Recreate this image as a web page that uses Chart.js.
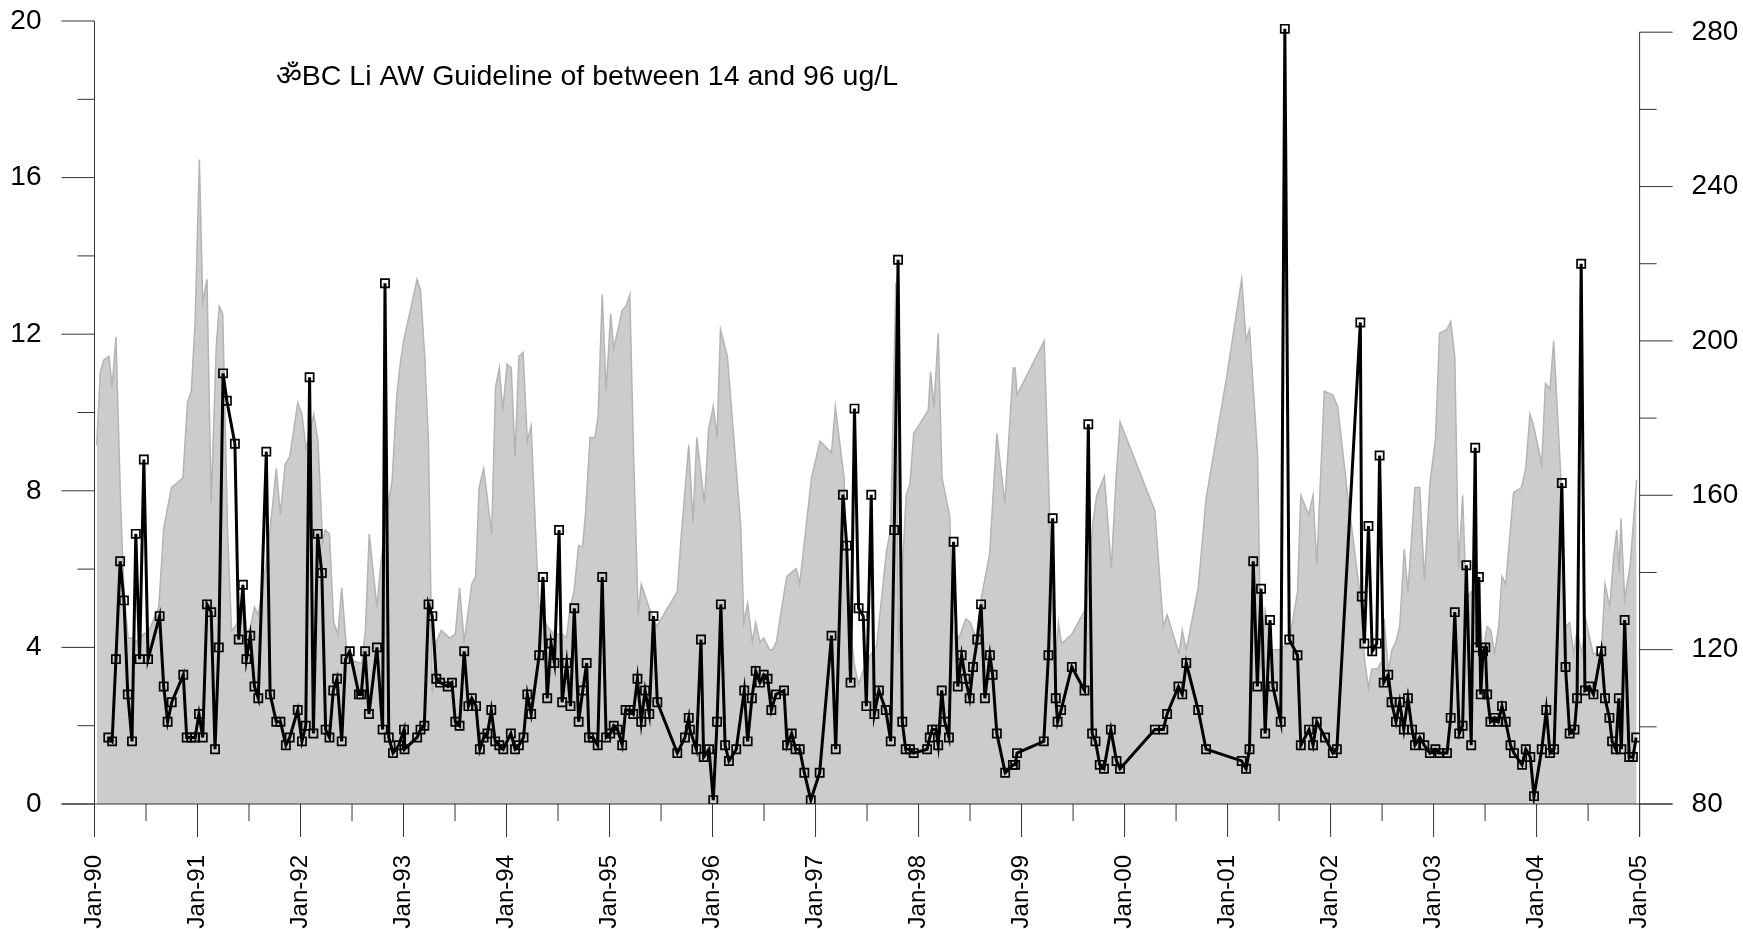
<!DOCTYPE html>
<html>
<head>
<meta charset="utf-8">
<title>BC Li AW Guideline</title>
<script src="https://cdn.jsdelivr.net/npm/chart.js@4"></script>
<style>
  html, body { margin: 0; padding: 0; background: #fff; overflow: hidden; }
  #wrap { position: relative; width: 1743px; height: 929px; }
</style>
</head>
<body>
<div id="wrap"><canvas id="chart"></canvas></div>
<script>
// Tick positions
const xTicks = [1990,1990.5,1991,1991.5,1992,1992.5,1993,1993.5,1994,1994.5,1995,1995.5,1996,1996.5,1997,1997.5,1998,1998.5,1999,1999.5,2000,2000.5,2001,2001.5,2002,2002.5,2003,2003.5,2004,2004.5,2005];
const leftTicks = [0,2,4,6,8,10,12,14,16,18,20];
const rightTicks = [80,100,120,140,160,180,200,220,240,260,280];
const noteText = "\u0950BC Li AW Guideline of between 14 and 96 ug/L";

// Black line: sample dates (decimal year offset from 1990) and values, left axis
const liDates = [
0.134,0.171,0.208,0.249,0.286,0.323,0.364,0.401,0.438,0.479,0.520,0.632,0.672,0.710,0.750,0.862,0.895,0.940,0.977,1.014,
1.051,1.092,1.133,1.170,1.207,1.248,1.285,1.363,1.400,1.441,1.475,1.512,1.553,1.590,1.668,1.705,1.765,1.805,1.858,1.895,
1.973,2.014,2.051,2.088,2.125,2.166,2.207,2.244,2.281,2.318,2.355,2.400,2.437,2.478,2.567,2.589,2.627,2.664,2.742,2.797,
2.820,2.857,2.898,2.953,3.005,3.010,3.132,3.165,3.202,3.243,3.280,3.318,3.355,3.429,3.470,3.503,3.544,3.589,3.630,3.663,
3.704,3.741,3.778,3.815,3.852,3.890,3.930,3.968,4.042,4.083,4.120,4.165,4.202,4.239,4.317,4.354,4.395,4.432,4.465,4.510,
4.540,4.584,4.621,4.658,4.700,4.740,4.778,4.800,4.840,4.885,4.929,4.967,5.007,5.041,5.078,5.123,5.156,5.197,5.230,5.271,
5.308,5.345,5.386,5.427,5.464,5.658,5.732,5.769,5.780,5.843,5.888,5.914,5.966,6.007,6.044,6.081,6.122,6.159,6.230,6.308,
6.341,6.382,6.419,6.460,6.497,6.534,6.571,6.616,6.694,6.724,6.768,6.806,6.846,6.891,6.954,7.040,7.155,7.196,7.266,7.303,
7.340,7.378,7.418,7.463,7.493,7.541,7.571,7.615,7.682,7.730,7.764,7.801,7.842,7.875,7.916,7.953,8.083,8.109,8.132,8.169,
8.191,8.225,8.254,8.295,8.340,8.381,8.418,8.455,8.496,8.529,8.570,8.607,8.644,8.693,8.719,8.760,8.841,8.916,8.938,8.956,
9.216,9.261,9.302,9.332,9.350,9.384,9.488,9.611,9.648,9.685,9.718,9.759,9.800,9.867,9.922,9.956,10.294,10.376,10.413,10.523,
10.560,10.599,10.715,10.791,11.137,11.180,11.213,11.249,11.289,11.325,11.365,11.412,11.440,11.516,11.556,11.599,11.679,11.711,11.791,11.830,
11.866,11.946,12.022,12.061,12.289,12.303,12.328,12.368,12.404,12.448,12.476,12.516,12.560,12.592,12.635,12.671,12.711,12.751,12.791,12.819,
12.866,12.910,12.964,13.018,13.058,13.130,13.166,13.206,13.249,13.282,13.318,13.365,13.404,13.422,13.440,13.458,13.480,13.502,13.520,13.552,
13.592,13.628,13.664,13.700,13.747,13.780,13.859,13.895,13.939,13.975,14.050,14.094,14.130,14.170,14.245,14.281,14.321,14.368,14.393,14.433,
14.469,14.513,14.552,14.628,14.664,14.707,14.733,14.769,14.798,14.823,14.855,14.899,14.935,14.967];
const liValues = [
1.7,1.6,3.7,6.2,5.2,2.8,1.6,6.9,3.7,8.8,3.7,4.8,3.0,2.1,2.6,3.3,1.7,1.7,1.7,2.3,
1.7,5.1,4.9,1.4,4.0,11.0,10.3,9.2,4.2,5.6,3.7,4.3,3.0,2.7,9.0,2.8,2.1,2.1,1.5,1.7,
2.4,1.6,2.0,10.9,1.8,6.9,5.9,1.9,1.7,2.9,3.2,1.6,3.7,3.9,2.8,2.8,3.9,2.3,4.0,1.9,
13.3,1.7,1.3,1.5,1.9,1.4,1.7,1.9,2.0,5.1,4.8,3.2,3.1,3.0,3.1,2.1,2.0,3.9,2.5,2.7,
2.5,1.4,1.7,1.8,2.4,1.6,1.5,1.4,1.8,1.4,1.5,1.7,2.8,2.3,3.8,5.8,2.7,4.1,3.6,7.0,
2.6,3.6,2.5,5.0,2.1,2.9,3.6,1.7,1.7,1.5,5.8,1.7,1.8,2.0,1.9,1.5,2.4,2.4,2.3,3.2,
2.1,2.9,2.3,4.8,2.6,1.3,1.7,2.2,1.9,1.4,4.2,1.2,1.4,0.1,2.1,5.1,1.5,1.1,1.4,2.9,
1.6,2.7,3.4,3.1,3.3,3.2,2.4,2.8,2.9,1.5,1.8,1.4,1.4,0.8,0.1,0.8,4.3,1.4,7.9,6.6,
3.1,10.1,5.0,4.8,2.5,7.9,2.3,2.9,2.4,1.6,7.0,13.9,2.1,1.4,1.4,1.3,1.4,1.7,1.9,1.9,
1.5,2.9,2.1,1.7,6.7,3.0,3.8,3.2,2.7,3.5,4.2,5.1,2.7,3.8,3.3,1.8,0.8,1.0,1.0,1.3,
1.6,3.8,7.3,2.7,2.1,2.4,3.5,2.9,9.7,1.8,1.6,1.0,0.9,1.9,1.1,0.9,1.9,1.9,2.3,3.0,
2.8,3.6,2.4,1.4,1.1,0.9,1.4,6.2,3.0,5.5,1.8,4.7,3.0,2.1,19.8,4.2,3.8,1.5,1.9,1.5,
2.1,1.7,1.3,1.4,12.3,5.3,4.1,7.1,3.9,4.1,8.9,3.1,3.3,2.6,2.1,2.6,1.9,2.7,1.9,1.5,
1.7,1.5,1.3,1.4,1.3,1.3,2.2,4.9,1.8,2.0,6.1,1.5,9.1,4.0,5.8,2.8,3.9,4.0,2.8,2.1,
2.2,2.1,2.5,2.1,1.5,1.3,1.0,1.4,1.2,0.2,1.4,2.4,1.3,1.4,8.2,3.5,1.8,1.9,2.7,13.8,
2.9,3.0,2.8,3.9,2.7,2.2,1.6,1.4,2.7,1.4,4.7,1.2,1.2,1.7];

// Grey area: dates (offset from 1990) and values, right axis
const flowDates = [
0.022,0.056,0.089,0.141,0.171,0.208,0.256,0.286,0.327,0.364,0.401,0.476,0.531,0.624,0.672,0.747,0.858,0.903,0.940,0.977,
1.018,1.051,1.092,1.133,1.181,1.211,1.245,1.293,1.330,1.367,1.404,1.441,1.479,1.516,1.553,1.590,1.664,1.720,1.765,1.805,
1.850,1.895,1.973,2.014,2.054,2.129,2.170,2.214,2.240,2.281,2.322,2.363,2.400,2.444,2.519,2.593,2.630,2.667,2.742,2.779,
2.835,2.890,2.935,2.972,3.005,3.132,3.165,3.206,3.243,3.280,3.318,3.366,3.447,3.503,3.544,3.589,3.663,3.700,3.734,3.778,
3.856,3.893,3.930,3.964,4.005,4.046,4.083,4.120,4.161,4.202,4.239,4.276,4.313,4.395,4.465,4.543,4.581,4.618,4.655,4.700,
4.737,4.766,4.811,4.859,4.889,4.929,4.967,5.011,5.041,5.123,5.160,5.197,5.234,5.279,5.308,5.383,5.457,5.658,5.698,5.769,
5.810,5.847,5.921,5.962,6.007,6.044,6.077,6.144,6.200,6.274,6.304,6.341,6.386,6.419,6.460,6.497,6.553,6.583,6.620,6.720,
6.813,6.846,6.961,7.043,7.155,7.192,7.277,7.314,7.378,7.418,7.493,7.593,7.686,7.730,7.779,7.805,7.879,7.916,7.953,8.094,
8.117,8.150,8.191,8.228,8.303,8.336,8.392,8.459,8.503,8.559,8.607,8.652,8.689,8.760,8.837,8.919,8.938,8.956,9.220,9.261,
9.302,9.332,9.358,9.388,9.488,9.611,9.648,9.693,9.730,9.804,9.871,9.919,9.956,10.294,10.376,10.413,10.528,10.560,10.599,10.715,
10.791,10.993,11.137,11.180,11.213,11.249,11.292,11.325,11.365,11.426,11.516,11.599,11.679,11.711,11.787,11.830,11.866,11.939,12.022,12.069,
12.166,12.292,12.328,12.368,12.400,12.455,12.498,12.520,12.560,12.596,12.635,12.671,12.715,12.751,12.819,12.866,12.910,12.964,13.018,13.058,
13.130,13.166,13.206,13.242,13.282,13.318,13.365,13.440,13.476,13.520,13.556,13.592,13.632,13.664,13.700,13.776,13.852,13.895,13.935,13.971,
14.050,14.086,14.130,14.166,14.235,14.278,14.321,14.361,14.393,14.440,14.476,14.548,14.628,14.664,14.711,14.747,14.779,14.801,14.819,14.855,
14.909,14.971];
const flowValues = [
173,192,195,196,188,201,156,135,123,123,122,124,125,131,151.5,162,164.5,184,187,205,
247,210,216,158,198,209,207,150,125,126,128,136,124,126,131,129,142,155,167,155,
168,170,184,181,172,181,174,148,151,150,127,124,136,121,117,116.5,125,150,131,142,
155,164,186,195,200.5,216,213,196,173,109,122,125,123,124,136,122,137,139,162,167,
150,188,193,182,194,193,170,196,197,174,178,154.5,131.5,126,124,124,123,131,135,147,
146.5,155,175,175,180.6,212,187,207,198,208,209,212,170,129,137,131,126,135,150,173,
153,175,158,177,183,175,203,196,177,152,127,132,122,127,122,123,120,120,122,139,
141,137,164.5,174,171,183,164.5,130,116,111,117,121,145,151.5,215,119,160,163,176,182,
192,183,202,164.5,154.5,125,123,128,127,123,133,139.5,144.6,176,158,193,193,186,200,165,
128,117,127,121.6,124,130,136,153,160,165,141,165,179,156,126,129,119,125,120,136,
159,191,216,200,203,188,170,114.7,130,120,120,122,135,160,155,160,142,187,186,183,
160,133,118,110,115,115,117,128,114.7,120,122,126,146,135,162,162,138,163,174.5,202,
203,205,196,141,160,133,135,135,119,126,125,119,126,139,137,160.7,162,167,181,178,
168,189,187.5,200,165,126,127,119,125,119,128,119,119,137,131,144,151,140,154,133,
142,164];

const startYear = 1990;
const liPoints = liDates.map((d, i) => ({ x: startYear + d, y: liValues[i] }));
const flowPoints = flowDates.map((d, i) => ({ x: startYear + d, y: flowValues[i] }));

const FONT = '"Liberation Sans", Arial, sans-serif';
const AXIS_COLOR = "#333";

function setTicks(list) {
  return (scale) => {
    scale.ticks = list.map((v) => ({ value: v }));
  };
}

function fixWidth(w) {
  return (scale) => {
    scale.width = w;
    scale.paddingTop = 0;
    scale.paddingBottom = 0;
  };
}

// R-style axes: long ticks where there is a label, short ones between
const axesPlugin = {
  id: "axesPlugin",
  afterDraw(chart) {
    const { ctx, scales } = chart;
    const { x, y, y1 } = scales;
    const bottom = y.getPixelForValue(0);
    const LONG = 33;
    const SHORT = 17;
    ctx.save();
    ctx.strokeStyle = AXIS_COLOR;
    ctx.lineWidth = 1;
    const seg = (x0, y0, x1, y2) => {
      ctx.beginPath();
      ctx.moveTo(x0, y0);
      ctx.lineTo(x1, y2);
      ctx.stroke();
    };
    const xl = x.getPixelForValue(1990);
    const xr = x.getPixelForValue(2005);
    seg(xl, y.getPixelForValue(20), xl, bottom + LONG);
    seg(xr, y1.getPixelForValue(280), xr, bottom + LONG);
    seg(xl - LONG, bottom, xr + LONG, bottom);
    xTicks.forEach((v) => {
      const px = x.getPixelForValue(v);
      seg(px, bottom, px, bottom + (Number.isInteger(v) ? LONG : SHORT));
    });
    leftTicks.forEach((v) => {
      const py = y.getPixelForValue(v);
      seg(xl, py, xl - (v % 4 === 0 ? LONG : SHORT), py);
    });
    rightTicks.forEach((v) => {
      const py = y1.getPixelForValue(v);
      seg(xr, py, xr + ((v - 80) % 40 === 0 ? LONG : SHORT), py);
    });
    // note inside the plot
    ctx.fillStyle = "#000";
    ctx.font = "28.5px " + FONT;
    ctx.textBaseline = "alphabetic";
    ctx.textAlign = "left";
    ctx.fillText(noteText, x.getPixelForValue(1991.76), y.getPixelForValue(18.37));
    ctx.restore();
  },
};

new Chart(document.getElementById("chart"), {
  type: "line",
  plugins: [axesPlugin],
  data: {
    datasets: [
      {
        label: "Li",
        data: liPoints,
        yAxisID: "y",
        order: 1,
        borderColor: "#000",
        borderWidth: 3,
        tension: 0,
        pointStyle: "rect",
        pointRadius: 5.8,
        pointBorderWidth: 1.7,
        pointBorderColor: "#000",
        pointBackgroundColor: "rgba(0,0,0,0)",
      },
      {
        label: "Flow",
        data: flowPoints,
        yAxisID: "y1",
        order: 2,
        borderColor: "#b4b4b4",
        borderWidth: 1.5,
        backgroundColor: "#cccccc",
        fill: { target: { value: 80 } },
        tension: 0,
        pointRadius: 0,
      },
    ],
  },
  options: {
    responsive: true,
    maintainAspectRatio: false,
    animation: false,
    layout: { padding: { top: 21, left: 0, right: 0, bottom: 0 } },
    plugins: { legend: { display: false }, tooltip: { enabled: false } },
    scales: {
      x: {
        type: "linear",
        min: 1990,
        max: 2005,
        afterBuildTicks: setTicks(xTicks),
        afterFit: (scale) => { scale.height = 125; },
        grid: { display: false, drawTicks: false },
        border: { display: false },
        ticks: {
          autoSkip: false,
          minRotation: 90,
          maxRotation: 90,
          padding: 51,
          color: "#000",
          font: { family: FONT, size: 24 },
          callback: (v) => Number.isInteger(v) ? "Jan-" + String(v % 100).padStart(2, "0") : "",
        },
      },
      y: {
        position: "left",
        min: 0,
        max: 20,
        afterBuildTicks: setTicks(leftTicks),
        afterFit: fixWidth(94.5),
        grid: { display: false, drawTicks: false },
        border: { display: false },
        ticks: {
          autoSkip: false,
          padding: 53,
          color: "#000",
          font: { family: FONT, size: 28 },
          callback: (v) => v % 4 === 0 ? String(v) : "",
        },
      },
      y1: {
        position: "right",
        min: 80,
        max: 282.9,
        afterBuildTicks: setTicks(rightTicks),
        afterFit: fixWidth(103.4),
        grid: { display: false, drawTicks: false },
        border: { display: false },
        ticks: {
          autoSkip: false,
          padding: 52,
          color: "#000",
          font: { family: FONT, size: 28 },
          callback: (v) => (v - 80) % 40 === 0 ? String(v) : "",
        },
      },
    },
  },
});
</script>
</body>
</html>
